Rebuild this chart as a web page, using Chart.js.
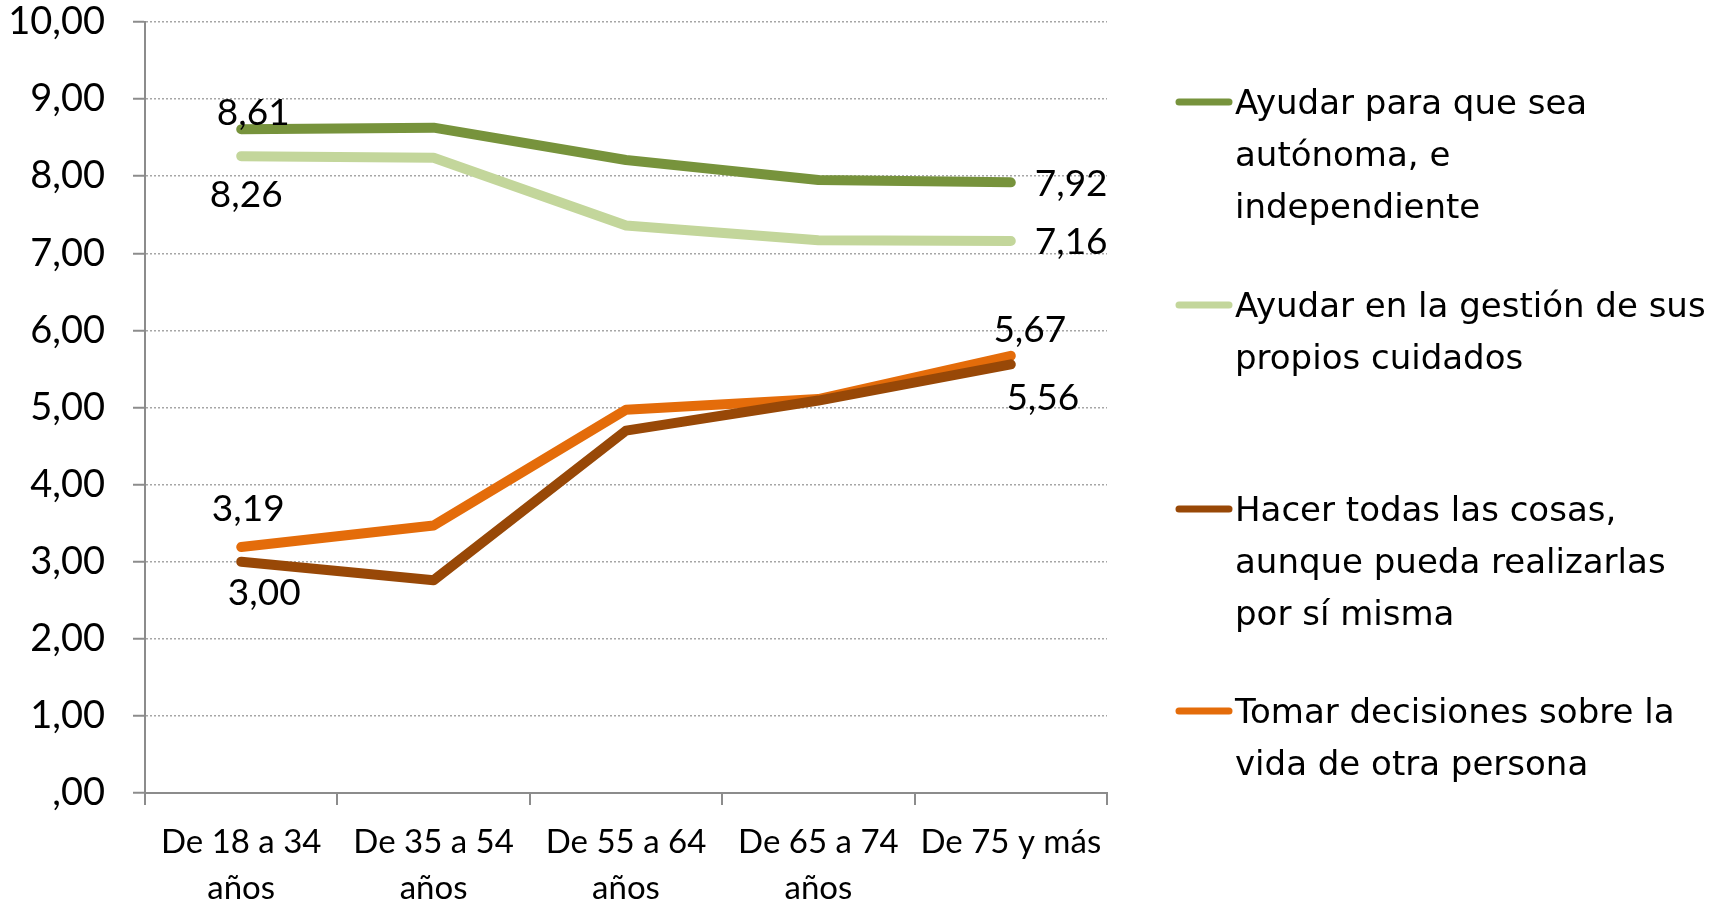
<!DOCTYPE html>
<html><head><meta charset="utf-8">
<script src="https://cdn.jsdelivr.net/npm/chart.js@4"></script>
<style>html,body{margin:0;padding:0;background:#fff;overflow:hidden}#wrap{width:1727px;height:904px;position:relative}</style>
</head><body><div id="wrap"><canvas id="c" width="1727" height="904"></canvas></div>
<script>
const categories = [["De 18 a 34","años"],["De 35 a 54","años"],["De 55 a 64","años"],["De 65 a 74","años"],"De 75 y más"];
const seriesNames = [
  ["Ayudar para que sea","autónoma, e","independiente"],
  ["Ayudar en la gestión de sus","propios cuidados"],
  ["Hacer todas las cosas,","aunque pueda realizarlas","por sí misma"],
  ["Tomar decisiones sobre la","vida de otra persona"]
];
const autonomaValues   = [8.61, 8.63, 8.21, 7.95, 7.92];
const gestionValues    = [8.26, 8.24, 7.36, 7.17, 7.16];
const hacerValues      = [3.00, 2.76, 4.70, 5.09, 5.56];
const decisionesValues = [3.19, 3.47, 4.97, 5.11, 5.67];
const yTickLabels = [",00","1,00","2,00","3,00","4,00","5,00","6,00","7,00","8,00","9,00","10,00"];

const colors = ["#77933C","#C3D69B","#984807","#E46C0A"];
const fmt = v => v.toFixed(2).replace('.', ',');

// label placement offsets (style only): [first point [dx,dy,align], last point [dx,dy,align]]
const labelOffsets = [
  [[12,-16,'center'],[24,2,'left']],
  [[5,39,'center'],[24,1,'left']],
  [[23,31,'center'],[32,34,'center']],
  [[7,-38,'center'],[19,-26,'center']]
];

const dataLabelPlugin = {
  id: 'dataLabels',
  afterDatasetsDraw(chart) {
    const ctx = chart.ctx;
    ctx.save();
    ctx.font = '37px Lato';
    ctx.fillStyle = '#000';
    ctx.textBaseline = 'middle';
    chart.data.datasets.forEach((ds, di) => {
      const meta = chart.getDatasetMeta(di);
      const idxs = [0, ds.data.length - 1];
      idxs.forEach((idx, k) => {
        const pt = meta.data[idx];
        const [dx, dy, al] = labelOffsets[di][k];
        ctx.textAlign = al;
        ctx.fillText(fmt(ds.data[idx]), pt.x + dx, pt.y + dy);
      });
    });
    ctx.restore();
  }
};

const legendPlugin = {
  id: 'customLegend',
  afterDraw(chart) {
    const ctx = chart.ctx;
    const ys = [102, 305, 509, 711];
    ctx.save();
    ctx.font = '34px "DejaVu Sans"';
    ctx.fillStyle = '#000';
    ctx.textBaseline = 'middle';
    ctx.textAlign = 'left';
    chart.data.datasets.forEach((ds, i) => {
      const y = ys[i];
      ctx.strokeStyle = ds.borderColor;
      ctx.lineWidth = 7;
      ctx.lineCap = 'round';
      ctx.beginPath();
      ctx.moveTo(1179, y);
      ctx.lineTo(1229, y);
      ctx.stroke();
      ds.label.forEach((line, j) => ctx.fillText(line, 1235, y + 3 + j * 52));
    });
    ctx.restore();
  }
};

const mk = (i, data) => ({
  label: seriesNames[i], data, borderColor: colors[i], backgroundColor: colors[i],
  borderWidth: 10, pointRadius: 0, borderCapStyle: 'round', borderJoinStyle: 'round', tension: 0
});

new Chart(document.getElementById('c'), {
  type: 'line',
  data: {
    labels: categories,
    datasets: [mk(0, autonomaValues), mk(1, gestionValues), mk(2, hacerValues), mk(3, decisionesValues)]
  },
  options: {
    responsive: false, animation: false, devicePixelRatio: 1,
    layout: { padding: { left: 0, right: 620, top: 0, bottom: 0 } },
    plugins: { legend: { display: false }, tooltip: { enabled: false } },
    scales: {
      x: {
        offset: true,
        grid: { offset: true, drawOnChartArea: false, tickLength: 12, tickColor: '#8c8c8c', tickWidth: 2, lineWidth: 2 },
        border: { color: '#8c8c8c', width: 2 },
        ticks: { color: '#000', font: { family: 'Lato', size: 33, lineHeight: 1.4 }, padding: 14, maxRotation: 0, autoSkip: false },
        afterFit(s) { s.height = 111; }
      },
      y: {
        min: 0, max: 10,
        ticks: { stepSize: 1, color: '#000', font: { family: 'Lato', size: 38 }, padding: 28,
                 callback: (v, i) => yTickLabels[i] },
        grid: { color: '#a6a6a6', lineWidth: 1.5, tickLength: 12, tickColor: '#8c8c8c', tickWidth: 2 },
        border: { color: '#8c8c8c', width: 2, dash: [2, 2] },
        afterFit(s) { s.width = 145; s.paddingTop = 22; }
      }
    }
  },
  plugins: [dataLabelPlugin, legendPlugin]
});
</script></body></html>
